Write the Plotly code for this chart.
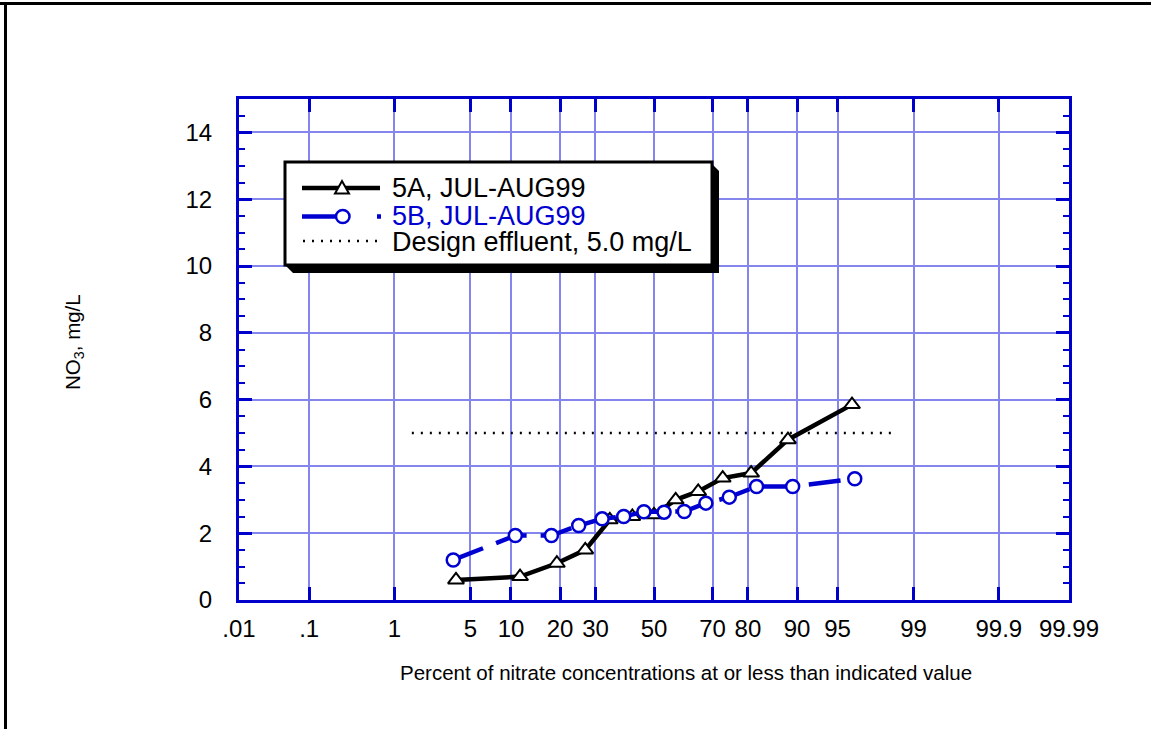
import plotly.graph_objects as go
from statistics import NormalDist

# Probability axis: percent values are placed on a normal-quantile scale
_nd = NormalDist()


def zscore(pct):
    return _nd.inv_cdf(pct / 100.0)


tick_pct = [0.01, 0.1, 1, 5, 10, 20, 30, 50, 70, 80, 90, 95, 99, 99.9, 99.99]
tick_text = [".01", ".1", "1", "5", "10", "20", "30", "50", "70", "80", "90",
             "95", "99", "99.9", "99.99"]

# 5A, JUL-AUG99
pct_5a = [3.8, 11.5, 19.2, 26.9, 34.6, 42.3, 50.0, 57.7, 65.4, 73.1, 80.8, 88.5, 96.2]
no3_5a = [0.6, 0.7, 1.1, 1.5, 2.4, 2.5, 2.55, 3.0, 3.25, 3.65, 3.8, 4.8, 5.85]

# 5B, JUL-AUG99
pct_5b = [3.6, 10.7, 17.9, 25.0, 32.1, 39.3, 46.4, 53.6, 60.7, 67.9, 75.0, 82.1, 89.3, 96.4]
no3_5b = [1.2, 1.93, 1.93, 2.23, 2.43, 2.5, 2.64, 2.63, 2.65, 2.9, 3.08, 3.4, 3.4, 3.63]

# Design effluent limit
design_pct = [1.5, 98.5]
design_no3 = [5.0, 5.0]

FONT = "Liberation Sans, Arial, Helvetica, sans-serif"
AXIS_BLUE = "#0000cc"
GRID_BLUE = "#8585ee"
LINE_BLUE = "#0000d0"

# plot area in pixels
W_FIG, H_FIG = 1151, 729
L, R, T, B = 239, 1069, 99, 600


def px(x):
    return (x - L) / (R - L)


def py(y):
    return (B - y) / (B - T)


fig = go.Figure()

fig.add_trace(go.Scatter(
    x=[zscore(p) for p in design_pct], y=design_no3, mode="lines",
    line=dict(color="black", width=2.5, dash="2px,7px"),
    showlegend=False, hoverinfo="skip"))

fig.add_trace(go.Scatter(
    x=[zscore(p) for p in pct_5a], y=no3_5a, mode="lines+markers",
    line=dict(color="black", width=4.5),
    marker=dict(symbol="triangle-up", size=14, color="white",
                line=dict(color="black", width=2)),
    showlegend=False))

fig.add_trace(go.Scatter(
    x=[zscore(p) for p in pct_5b], y=no3_5b, mode="lines+markers",
    line=dict(color=LINE_BLUE, width=4.5, dash="32px,14px"),
    marker=dict(symbol="circle", size=13, color="white",
                line=dict(color=LINE_BLUE, width=2.5)),
    showlegend=False))

shapes = []
# outer frame (top and left edges)
shapes.append(dict(type="line", xref="paper", yref="paper",
                   x0=px(0), x1=px(W_FIG), y0=py(3.5), y1=py(3.5),
                   line=dict(color="black", width=3)))
shapes.append(dict(type="line", xref="paper", yref="paper",
                   x0=px(5.5), x1=px(5.5), y0=py(2), y1=py(H_FIG),
                   line=dict(color="black", width=3)))


def path(points):
    return "M " + " L ".join(f"{px(x)},{py(y)}" for x, y in points) + " Z"


# legend box with drop shadow
shapes.append(dict(type="path", xref="paper", yref="paper",
                   path=path([(711, 163), (719, 171), (719, 273), (293, 273), (285, 265)]),
                   fillcolor="black", line=dict(width=0), layer="above"))
shapes.append(dict(type="rect", xref="paper", yref="paper",
                   x0=px(285), x1=px(712), y0=py(265), y1=py(162),
                   fillcolor="white", line=dict(color="black", width=3), layer="above"))

# legend symbols
shapes.append(dict(type="line", xref="paper", yref="paper",
                   x0=px(302), x1=px(380), y0=py(188), y1=py(188),
                   line=dict(color="black", width=4.5), layer="above"))
shapes.append(dict(type="path", xref="paper", yref="paper",
                   path=path([(335, 193.5), (349, 193.5), (342, 181)]),
                   fillcolor="white", line=dict(color="black", width=2), layer="above"))

shapes.append(dict(type="line", xref="paper", yref="paper",
                   x0=px(302), x1=px(342), y0=py(216.5), y1=py(216.5),
                   line=dict(color=LINE_BLUE, width=4.5), layer="above"))
shapes.append(dict(type="line", xref="paper", yref="paper",
                   x0=px(377), x1=px(381), y0=py(216.5), y1=py(216.5),
                   line=dict(color=LINE_BLUE, width=4.5), layer="above"))
shapes.append(dict(type="circle", xref="paper", yref="paper",
                   x0=px(336), x1=px(349.5), y0=py(223), y1=py(210),
                   fillcolor="white", line=dict(color=LINE_BLUE, width=2.5), layer="above"))

shapes.append(dict(type="line", xref="paper", yref="paper",
                   x0=px(303), x1=px(381), y0=py(241), y1=py(241),
                   line=dict(color="black", width=2.5, dash="2px,7px"), layer="above"))

annotations = []
legend_rows = [("5A, JUL-AUG99", "black", 188),
               ("5B, JUL-AUG99", LINE_BLUE, 216),
               ("Design effluent, 5.0 mg/L", "black", 242)]
for text, color, y in legend_rows:
    annotations.append(dict(text=text, xref="paper", yref="paper",
                            x=px(390), y=py(y), xanchor="left", yanchor="middle",
                            showarrow=False, font=dict(family=FONT, size=27, color=color)))

annotations.append(dict(text="Percent of nitrate concentrations at or less than indicated value",
                        xref="paper", yref="paper", x=px(686), y=py(672),
                        xanchor="center", yanchor="middle", showarrow=False,
                        font=dict(family=FONT, size=20.5, color="black")))
annotations.append(dict(text="NO<sub>3</sub>, mg/L", textangle=-90,
                        xref="paper", yref="paper", x=px(74), y=py(342),
                        xanchor="center", yanchor="middle", showarrow=False,
                        font=dict(family=FONT, size=20.5, color="black")))

fig.update_layout(
    width=W_FIG, height=H_FIG,
    margin=dict(l=L, r=W_FIG - R, t=T, b=H_FIG - B, autoexpand=False),
    paper_bgcolor="white", plot_bgcolor="white",
    font=dict(family=FONT, color="black"),
    showlegend=False,
    shapes=shapes, annotations=annotations,
    xaxis=dict(
        range=[zscore(0.01), zscore(99.99)],
        tickmode="array", tickvals=[zscore(p) for p in tick_pct], ticktext=tick_text,
        ticks="inside", ticklen=13, tickwidth=2.5, tickcolor=AXIS_BLUE,
        showline=True, linecolor=AXIS_BLUE, linewidth=3, mirror="ticks",
        showgrid=True, gridcolor=GRID_BLUE, gridwidth=2, zeroline=False,
        tickfont=dict(family=FONT, size=24, color="black"),
        ticklabelstandoff=5, fixedrange=True,
    ),
    yaxis=dict(
        range=[0, 15], tick0=0, dtick=2,
        ticks="inside", ticklen=13, tickwidth=2.5, tickcolor=AXIS_BLUE,
        minor=dict(dtick=0.5, ticks="inside", ticklen=6, tickwidth=2,
                   tickcolor=AXIS_BLUE, showgrid=False),
        showline=True, linecolor=AXIS_BLUE, linewidth=3, mirror="ticks",
        showgrid=True, gridcolor=GRID_BLUE, gridwidth=2, zeroline=False,
        tickfont=dict(family=FONT, size=24, color="black"),
        ticklabelstandoff=19, fixedrange=True,
    ),
)

fig.write_html("out.html")
